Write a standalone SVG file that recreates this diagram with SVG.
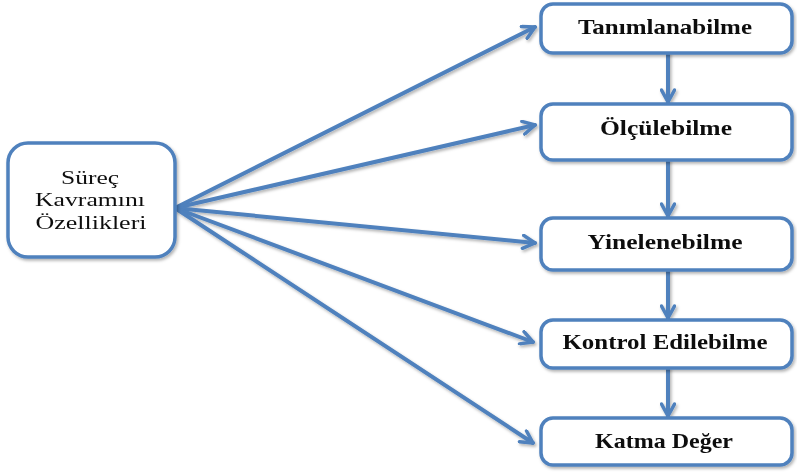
<svg xmlns="http://www.w3.org/2000/svg" width="797" height="473" viewBox="0 0 797 473">
  <style>
    .box { fill: #ffffff; stroke: #4f81bd; stroke-width: 3.5; }
    .lbl { font-family: "Liberation Serif", "Times New Roman", serif; font-size: 21px; font-weight: bold; fill: #111111; text-anchor: middle; }
    .src { font-family: "Liberation Serif", "Times New Roman", serif; font-size: 19px; fill: #111111; text-anchor: middle; }
    .edge { fill: none; stroke: #4f81bd; stroke-width: 4; stroke-linecap: round; }
  </style>
  <defs>
    <marker id="head" viewBox="0 0 16 16" refX="14" refY="8" markerWidth="16" markerHeight="16" markerUnits="userSpaceOnUse" orient="auto">
      <path d="M2,1.5 L14,8 L2,14.5" fill="none" stroke="#4f81bd" stroke-width="3.5" stroke-linecap="round" stroke-linejoin="round"/>
    </marker>
    <filter id="shadow" x="-10%" y="-10%" width="120%" height="130%">
      <feDropShadow dx="1.5" dy="2" stdDeviation="1.5" flood-color="#000000" flood-opacity="0.3"/>
    </filter>
  </defs>

  <g id="connectors" filter="url(#shadow)">
    <line class="edge" x1="175" y1="208" x2="535" y2="27" marker-end="url(#head)"/>
    <line class="edge" x1="175" y1="208" x2="535" y2="125" marker-end="url(#head)"/>
    <line class="edge" x1="175" y1="208" x2="535" y2="243" marker-end="url(#head)"/>
    <line class="edge" x1="175" y1="208" x2="533" y2="342" marker-end="url(#head)"/>
    <line class="edge" x1="175" y1="208" x2="533" y2="443" marker-end="url(#head)"/>
    <line class="edge" x1="668" y1="53" x2="668" y2="102" marker-end="url(#head)"/>
    <line class="edge" x1="668" y1="160" x2="668" y2="216" marker-end="url(#head)"/>
    <line class="edge" x1="668" y1="270" x2="668" y2="318" marker-end="url(#head)"/>
    <line class="edge" x1="668" y1="368" x2="668" y2="416" marker-end="url(#head)"/>
  </g>

  <g id="surec" filter="url(#shadow)">
    <rect class="box" x="8" y="143" width="167" height="114" rx="20"/>
    <text class="src" x="90" y="184" textLength="58" lengthAdjust="spacingAndGlyphs">Süreç</text>
    <text class="src" x="90" y="206" textLength="110" lengthAdjust="spacingAndGlyphs">Kavramını</text>
    <text class="src" x="91" y="229" textLength="111" lengthAdjust="spacingAndGlyphs">Özellikleri</text>
  </g>

  <g id="tanimlanabilme" filter="url(#shadow)">
    <rect class="box" x="541" y="4" width="251" height="49" rx="12"/>
    <text class="lbl" x="665" y="34" textLength="174" lengthAdjust="spacingAndGlyphs">Tanımlanabilme</text>
  </g>

  <g id="olculebilme" filter="url(#shadow)">
    <rect class="box" x="541" y="104" width="251" height="56" rx="12"/>
    <text class="lbl" x="666" y="135" textLength="132" lengthAdjust="spacingAndGlyphs">Ölçülebilme</text>
  </g>

  <g id="yinelenebilme" filter="url(#shadow)">
    <rect class="box" x="541" y="218" width="251" height="52" rx="12"/>
    <text class="lbl" x="665" y="249" textLength="155" lengthAdjust="spacingAndGlyphs">Yinelenebilme</text>
  </g>

  <g id="kontrol" filter="url(#shadow)">
    <rect class="box" x="541" y="320" width="251" height="48" rx="12"/>
    <text class="lbl" x="665" y="349" textLength="205" lengthAdjust="spacingAndGlyphs">Kontrol Edilebilme</text>
  </g>

  <g id="katma" filter="url(#shadow)">
    <rect class="box" x="541" y="418" width="251" height="47" rx="12"/>
    <text class="lbl" x="664" y="448" textLength="138" lengthAdjust="spacingAndGlyphs">Katma Değer</text>
  </g>
</svg>
